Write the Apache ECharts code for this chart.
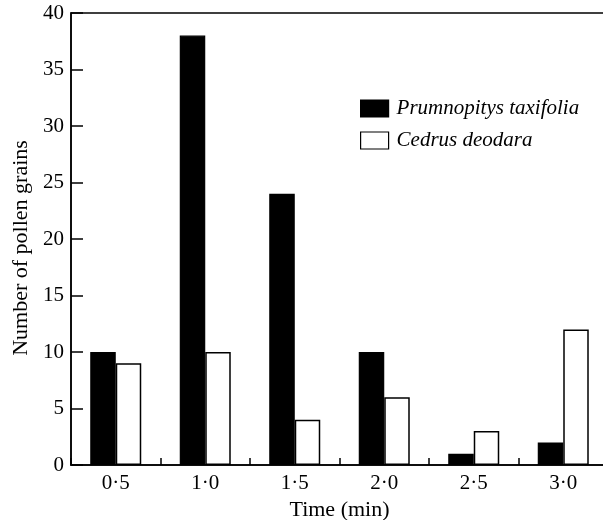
<!DOCTYPE html>
<html>
<head>
<meta charset="utf-8">
<script src="https://cdn.jsdelivr.net/npm/echarts@6/dist/echarts.min.js"></script>
<style>
html,body{margin:0;padding:0;background:#fff;}
#chart{width:603px;height:520px;}
</style>
</head>
<body>
<div id="chart"></div>
<script>
var categories = ['0\u00b75', '1\u00b70', '1\u00b75', '2\u00b70', '2\u00b75', '3\u00b70'];
var prumnopitys = [10, 38, 24, 10, 1, 2];
var cedrus = [9, 10, 4, 6, 3, 12];
var seriesNames = ['Prumnopitys taxifolia', 'Cedrus deodara'];
var yTicks = [0, 5, 10, 15, 20, 25, 30, 35, 40];

var FONT = '"Liberation Serif", "DejaVu Serif", serif';
var chart = echarts.init(document.getElementById('chart'), null, {renderer: 'canvas'});
chart.setOption({
  animation: false,
  backgroundColor: '#fff',
  textStyle: {fontFamily: FONT, color: '#000'},
  grid: {
    left: 71, top: 13, width: 537, height: 452,
    outerBoundsMode: 'none',
    containLabel: false,
    show: true, borderColor: '#000', borderWidth: 1.5, backgroundColor: 'transparent'
  },
  legend: {
    orient: 'vertical',
    left: 360, top: 98, padding: 0,
    icon: 'rect',
    itemWidth: 28, itemHeight: 17, itemGap: 11,
    data: seriesNames,
    textStyle: {fontFamily: FONT, fontSize: 21, fontStyle: 'italic', color: '#000', padding: [0, 0, 0, 3]},
    itemStyle: {borderColor: '#000', borderWidth: 1.2}
  },
  xAxis: {
    type: 'category',
    data: categories,
    boundaryGap: true,
    name: 'Time (min)',
    nameLocation: 'middle',
    nameGap: 27,
    nameTextStyle: {fontFamily: FONT, fontSize: 22, color: '#000'},
    axisLine: {lineStyle: {color: '#000', width: 1.5}},
    axisTick: {show: true, inside: true, length: 7, interval: 0, lineStyle: {color: '#000', width: 1.5}},
    axisLabel: {fontFamily: FONT, fontSize: 21, color: '#000', margin: 8, interval: 0},
    splitLine: {show: false}
  },
  yAxis: {
    type: 'value',
    min: 0, max: 40, interval: 5,
    name: 'Number of pollen grains',
    nameLocation: 'middle',
    nameGap: 36,
    nameTextStyle: {fontFamily: FONT, fontSize: 22, color: '#000', padding: [0, 18, 0, 0]},
    axisLine: {show: true, lineStyle: {color: '#000', width: 1.5}},
    axisTick: {show: true, inside: true, length: 12, lineStyle: {color: '#000', width: 1.5}},
    axisLabel: {fontFamily: FONT, fontSize: 21, color: '#000', margin: 7,
      formatter: function (v) { return yTicks.indexOf(v) >= 0 ? String(v) : ''; }},
    splitLine: {show: false}
  },
  series: [
    {
      name: seriesNames[0], type: 'bar', data: prumnopitys,
      barWidth: 25.5, barGap: '0%',
      itemStyle: {color: '#000', borderColor: '#000', borderWidth: 1.2}
    },
    {
      name: seriesNames[1], type: 'bar', data: cedrus,
      barWidth: 25.5, barGap: '0%',
      itemStyle: {color: '#fff', borderColor: '#000', borderWidth: 1.5}
    }
  ]
});
</script>
</body>
</html>
